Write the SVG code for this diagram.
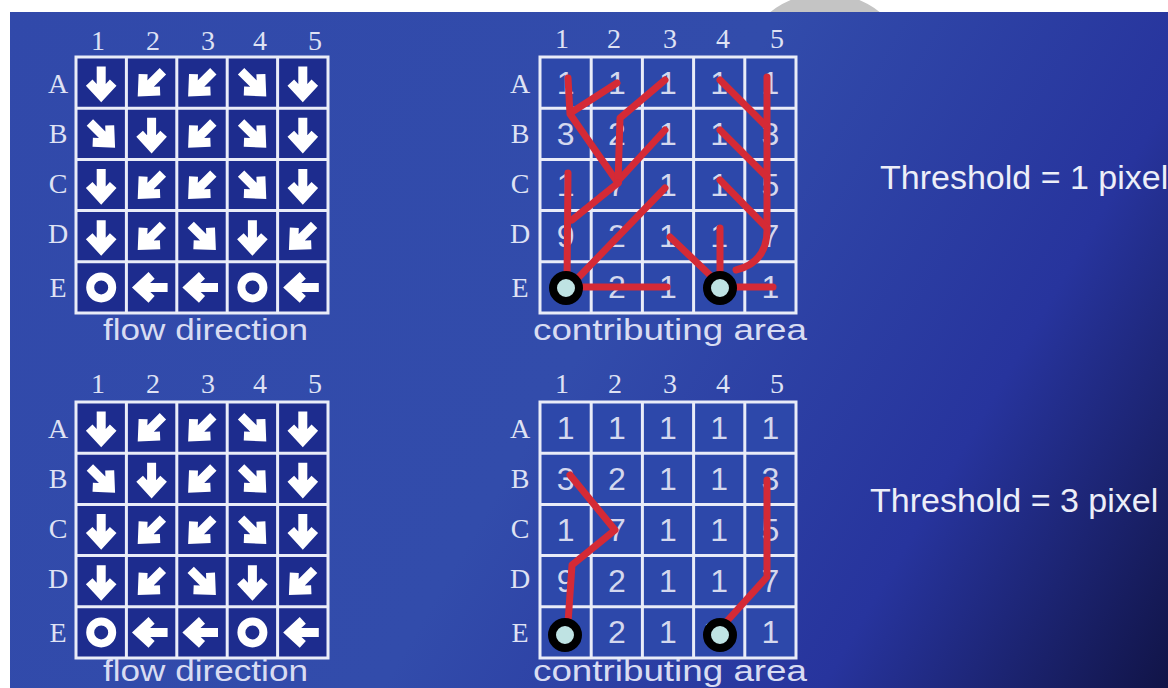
<svg xmlns="http://www.w3.org/2000/svg" xmlns:xlink="http://www.w3.org/1999/xlink" width="1168" height="688" viewBox="0 0 1168 688">
<defs>
<linearGradient id="bg" gradientUnits="userSpaceOnUse" x1="0" y1="0" x2="1168" y2="688">
<stop offset="0" stop-color="#3149aa"/>
<stop offset="0.5" stop-color="#324cab"/>
<stop offset="0.78" stop-color="#27349d"/>
<stop offset="1" stop-color="#111447"/>
</linearGradient>
<path id="arr" d="M0,-16 V13 M-12,0 L0,13 L12,0"/>
<style>
.ax{font-family:"Liberation Serif","Times New Roman",serif;font-size:28px;fill:#dfe2f4;text-anchor:middle}
.num{font-family:"Liberation Sans",Arial,sans-serif;font-size:32px;fill:#d4d8ee;text-anchor:middle}
.cap{font-family:"Liberation Sans",Arial,sans-serif;font-size:29px;fill:#d8dcf2}
.thr{font-family:"Liberation Sans",Arial,sans-serif;font-size:34px;fill:#eceef8}
.grid{stroke:#e9ecf8;stroke-width:3;fill:none}
.fcell{fill:#1d2c8e}
.ccell{fill:#2d48aa}
.ar{fill:none;stroke:#ffffff;stroke-width:9;stroke-linejoin:miter;stroke-miterlimit:4}
.ring{fill:none;stroke:#ffffff;stroke-width:8}
.red{fill:none;stroke:#d42a36;stroke-width:7;stroke-linecap:round;stroke-linejoin:round}
.out{fill:#bfe3e3;stroke:#000000;stroke-width:8}
</style>
</defs>
<rect x="0" y="0" width="1168" height="688" fill="#ffffff"/>
<circle cx="825" cy="81" r="88" fill="#c4c4c4"/>
<rect x="10" y="12" width="1158" height="676" fill="url(#bg)"/>

<g id="flow-top">
<rect class="fcell" x="76" y="57" width="252" height="256"/>
<path class="grid" d="M76,57H328V313H76Z M126.4,57V313 M176.8,57V313 M227.2,57V313 M277.6,57V313 M76,108.2H328 M76,159.4H328 M76,210.6H328 M76,261.8H328"/>
<text class="ax" x="98" y="50">1</text><text class="ax" x="153" y="50">2</text><text class="ax" x="208" y="50">3</text><text class="ax" x="260" y="50">4</text><text class="ax" x="315" y="50">5</text>
<text class="ax" x="58" y="93">A</text><text class="ax" x="58" y="143">B</text><text class="ax" x="58" y="193">C</text><text class="ax" x="58" y="243">D</text><text class="ax" x="58" y="297">E</text>
<g class="ar">
<use xlink:href="#arr" transform="translate(101.2,82.6)"/>
<use xlink:href="#arr" transform="translate(151.6,82.6) rotate(45)"/>
<use xlink:href="#arr" transform="translate(202,82.6) rotate(45)"/>
<use xlink:href="#arr" transform="translate(252.4,82.6) rotate(-45)"/>
<use xlink:href="#arr" transform="translate(302.8,82.6)"/>
<use xlink:href="#arr" transform="translate(101.2,133.8) rotate(-45)"/>
<use xlink:href="#arr" transform="translate(151.6,133.8)"/>
<use xlink:href="#arr" transform="translate(202,133.8) rotate(45)"/>
<use xlink:href="#arr" transform="translate(252.4,133.8) rotate(-45)"/>
<use xlink:href="#arr" transform="translate(302.8,133.8)"/>
<use xlink:href="#arr" transform="translate(101.2,185)"/>
<use xlink:href="#arr" transform="translate(151.6,185) rotate(45)"/>
<use xlink:href="#arr" transform="translate(202,185) rotate(45)"/>
<use xlink:href="#arr" transform="translate(252.4,185) rotate(-45)"/>
<use xlink:href="#arr" transform="translate(302.8,185)"/>
<use xlink:href="#arr" transform="translate(101.2,236.2)"/>
<use xlink:href="#arr" transform="translate(151.6,236.2) rotate(45)"/>
<use xlink:href="#arr" transform="translate(202,236.2) rotate(-45)"/>
<use xlink:href="#arr" transform="translate(252.4,236.2)"/>
<use xlink:href="#arr" transform="translate(302.8,236.2) rotate(45)"/>
<use xlink:href="#arr" transform="translate(151.6,287.4) rotate(90)"/>
<use xlink:href="#arr" transform="translate(202,287.4) rotate(90)"/>
<use xlink:href="#arr" transform="translate(302.8,287.4) rotate(90)"/>
</g>
<circle class="ring" cx="101.2" cy="287.4" r="11"/>
<circle class="ring" cx="252.4" cy="287.4" r="11"/>
<text class="cap" x="103" y="340" textLength="205" lengthAdjust="spacingAndGlyphs">flow direction</text>
</g>

<g id="flow-bottom">
<rect class="fcell" x="76" y="402" width="252" height="256"/>
<path class="grid" d="M76,402H328V658H76Z M126.4,402V658 M176.8,402V658 M227.2,402V658 M277.6,402V658 M76,453.2H328 M76,504.4H328 M76,555.6H328 M76,606.8H328"/>
<text class="ax" x="98" y="393">1</text><text class="ax" x="153" y="393">2</text><text class="ax" x="208" y="393">3</text><text class="ax" x="260" y="393">4</text><text class="ax" x="315" y="393">5</text>
<text class="ax" x="58" y="438">A</text><text class="ax" x="58" y="488">B</text><text class="ax" x="58" y="538">C</text><text class="ax" x="58" y="588">D</text><text class="ax" x="58" y="642">E</text>
<g class="ar">
<use xlink:href="#arr" transform="translate(101.2,427.6)"/>
<use xlink:href="#arr" transform="translate(151.6,427.6) rotate(45)"/>
<use xlink:href="#arr" transform="translate(202,427.6) rotate(45)"/>
<use xlink:href="#arr" transform="translate(252.4,427.6) rotate(-45)"/>
<use xlink:href="#arr" transform="translate(302.8,427.6)"/>
<use xlink:href="#arr" transform="translate(101.2,478.8) rotate(-45)"/>
<use xlink:href="#arr" transform="translate(151.6,478.8)"/>
<use xlink:href="#arr" transform="translate(202,478.8) rotate(45)"/>
<use xlink:href="#arr" transform="translate(252.4,478.8) rotate(-45)"/>
<use xlink:href="#arr" transform="translate(302.8,478.8)"/>
<use xlink:href="#arr" transform="translate(101.2,530)"/>
<use xlink:href="#arr" transform="translate(151.6,530) rotate(45)"/>
<use xlink:href="#arr" transform="translate(202,530) rotate(45)"/>
<use xlink:href="#arr" transform="translate(252.4,530) rotate(-45)"/>
<use xlink:href="#arr" transform="translate(302.8,530)"/>
<use xlink:href="#arr" transform="translate(101.2,581.2)"/>
<use xlink:href="#arr" transform="translate(151.6,581.2) rotate(45)"/>
<use xlink:href="#arr" transform="translate(202,581.2) rotate(-45)"/>
<use xlink:href="#arr" transform="translate(252.4,581.2)"/>
<use xlink:href="#arr" transform="translate(302.8,581.2) rotate(45)"/>
<use xlink:href="#arr" transform="translate(151.6,632.4) rotate(90)"/>
<use xlink:href="#arr" transform="translate(202,632.4) rotate(90)"/>
<use xlink:href="#arr" transform="translate(302.8,632.4) rotate(90)"/>
</g>
<circle class="ring" cx="101.2" cy="632.4" r="11"/>
<circle class="ring" cx="252.4" cy="632.4" r="11"/>
<text class="cap" x="103" y="681" textLength="205" lengthAdjust="spacingAndGlyphs">flow direction</text>
</g>

<g id="area-top">
<rect class="ccell" x="540" y="57" width="256" height="256"/>
<path class="grid" d="M540,57H796V313H540Z M591.2,57V313 M642.4,57V313 M693.6,57V313 M744.8,57V313 M540,108.2H796 M540,159.4H796 M540,210.6H796 M540,261.8H796"/>
<text class="ax" x="562" y="48">1</text><text class="ax" x="614" y="48">2</text><text class="ax" x="670" y="48">3</text><text class="ax" x="723" y="48">4</text><text class="ax" x="777" y="48">5</text>
<text class="ax" x="520" y="93">A</text><text class="ax" x="520" y="143">B</text><text class="ax" x="520" y="193">C</text><text class="ax" x="520" y="243">D</text><text class="ax" x="520" y="297">E</text>
<g>
<text class="num" x="565.6" y="94">1</text><text class="num" x="616.8" y="94">1</text><text class="num" x="668" y="94">1</text><text class="num" x="719.2" y="94">1</text><text class="num" x="770.4" y="94">1</text>
<text class="num" x="565.6" y="145">3</text><text class="num" x="616.8" y="145">2</text><text class="num" x="668" y="145">1</text><text class="num" x="719.2" y="145">1</text><text class="num" x="770.4" y="145">3</text>
<text class="num" x="565.6" y="196">1</text><text class="num" x="616.8" y="196">7</text><text class="num" x="668" y="196">1</text><text class="num" x="719.2" y="196">1</text><text class="num" x="770.4" y="196">5</text>
<text class="num" x="565.6" y="247">9</text><text class="num" x="616.8" y="247">2</text><text class="num" x="668" y="247">1</text><text class="num" x="719.2" y="247">1</text><text class="num" x="770.4" y="247">7</text>
<text class="num" x="562" y="298">1</text><text class="num" x="616.8" y="298">2</text><text class="num" x="668" y="298">1</text><text class="num" x="714" y="298">1</text><text class="num" x="770.4" y="298">1</text>
</g>
</g>

<g id="area-bottom">
<rect class="ccell" x="540" y="402" width="256" height="256"/>
<path class="grid" d="M540,402H796V658H540Z M591.2,402V658 M642.4,402V658 M693.6,402V658 M744.8,402V658 M540,453.2H796 M540,504.4H796 M540,555.6H796 M540,606.8H796"/>
<text class="ax" x="562" y="393">1</text><text class="ax" x="615" y="393">2</text><text class="ax" x="670" y="393">3</text><text class="ax" x="723" y="393">4</text><text class="ax" x="777" y="393">5</text>
<text class="ax" x="520" y="438">A</text><text class="ax" x="520" y="488">B</text><text class="ax" x="520" y="538">C</text><text class="ax" x="520" y="588">D</text><text class="ax" x="520" y="642">E</text>
<g>
<text class="num" x="565.6" y="439">1</text><text class="num" x="616.8" y="439">1</text><text class="num" x="668" y="439">1</text><text class="num" x="719.2" y="439">1</text><text class="num" x="770.4" y="439">1</text>
<text class="num" x="565.6" y="490">3</text><text class="num" x="616.8" y="490">2</text><text class="num" x="668" y="490">1</text><text class="num" x="719.2" y="490">1</text><text class="num" x="770.4" y="490">3</text>
<text class="num" x="565.6" y="541">1</text><text class="num" x="616.8" y="541">7</text><text class="num" x="668" y="541">1</text><text class="num" x="719.2" y="541">1</text><text class="num" x="770.4" y="541">5</text>
<text class="num" x="565.6" y="592">9</text><text class="num" x="616.8" y="592">2</text><text class="num" x="668" y="592">1</text><text class="num" x="719.2" y="592">1</text><text class="num" x="770.4" y="592">7</text>
<text class="num" x="560" y="643">1</text><text class="num" x="616.8" y="643">2</text><text class="num" x="668" y="643">1</text><text class="num" x="712" y="643">1</text><text class="num" x="770.4" y="643">1</text>
</g>
</g>

<g id="streams">
<g class="red">
<path d="M568,78 L570,114 L618,183"/>
<path d="M617,83 L572,112"/>
<path d="M665,80 L620,118 L618,183"/>
<path d="M665,130 L618,181"/>
<path d="M618,183 L572,220"/>
<path d="M568,173 L567,283"/>
<path d="M665,188 L578,278"/>
<path d="M583,287 L667,287"/>
<path d="M670,237 L712,277"/>
<path d="M720,228 L720,272"/>
<path d="M767,77 L767,228 Q768,262 736,270"/>
<path d="M720,80 L767,127"/>
<path d="M720,130 L767,177"/>
<path d="M720,180 L767,228"/>
<path d="M773,287 L737,287"/>
<path d="M570,475 L615,530 L572,565 L568,623"/>
<path d="M767,480 L767,577 L728,620"/>
</g>
<circle class="out" cx="566" cy="288" r="13"/>
<circle class="out" cx="720" cy="288" r="13"/>
<circle class="out" cx="565" cy="635" r="13"/>
<circle class="out" cx="720" cy="635" r="13"/>
</g>

<g id="labels">
<text class="cap" x="533" y="340" textLength="274" lengthAdjust="spacingAndGlyphs">contributing area</text>
<text class="cap" x="533" y="681" textLength="274" lengthAdjust="spacingAndGlyphs">contributing area</text>
<text class="thr" x="880" y="189">Threshold = 1 pixel</text>
<text class="thr" x="870" y="512">Threshold = 3 pixel</text>
</g>
</svg>
